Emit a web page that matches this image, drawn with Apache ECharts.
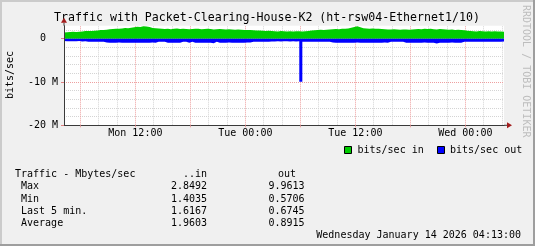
<!DOCTYPE html>
<html><head><meta charset="utf-8">
<script src="https://cdn.jsdelivr.net/npm/echarts@6/dist/echarts.min.js"></script>
<style>html,body{margin:0;padding:0;background:#f0f0f0}#c{width:535px;height:246px}</style>
</head><body><div id="c"></div><script>
// ---- data (Mbit/s) ----
const startHour = 4 + 13 / 60;          // Mon 04:13
const endHour = startHour + 48;         // Wed 04:13
const stepHours = 1 / 3;                // 20 min samples
const inValues = [
 1.42,1.50,1.55,1.62,1.52,1.58,1.66,
 1.75,1.80,1.78,1.82,1.90,
 2.00,1.98,2.05,
 2.20,2.25,2.30,2.28,2.38,2.45,2.40,
 2.55,2.62,
 2.78,2.72,2.85,2.80,2.70,
 2.45,2.40,2.35,
 2.30,2.25,2.32,2.20,2.28,2.35,2.22,2.30,2.26,2.18,2.25,2.32,2.28,2.20,2.24,2.30,2.22,2.15,2.20,2.26,2.18,2.12,2.20,2.15,2.08,2.12,2.05,2.00,1.98,2.02,
 1.95,1.88,1.92,1.85,1.80,1.86,1.78,
 1.72,1.68,1.75,1.70,1.65,1.72,1.68,1.74,1.70,1.66,1.72,1.78,
 1.90,1.95,2.00,2.05,1.98,2.08,
 2.15,2.20,2.25,2.18,2.28,2.30,2.35,
 2.55,2.70,2.85,2.65,
 2.40,2.35,2.30,2.38,2.28,2.32,2.25,
 2.20,2.15,2.10,2.18,2.12,2.05,2.10,2.15,2.08,
 2.15,2.20,2.25,2.18,2.30,2.22,2.28,2.20,2.15,2.25,2.18,2.10,2.05,2.12,2.00,2.05,1.98,1.95,
 1.85,1.80,
 1.72,1.68,1.75,1.70,1.66,1.72,1.65,1.70,1.68,1.64,1.62
];
const outValues = [
 0.55,0.58,0.58,0.57,0.60,0.55,0.62,0.60,
 0.70,0.68,0.72,0.70,0.70,0.72,
 0.90,0.92,0.93,0.92,0.90,0.92,0.94,0.92,0.91,
 0.92,0.93,0.91,0.92,0.94,0.92,0.90,0.92,
 0.70,0.72,0.70,
 0.92,0.93,0.92,0.91,0.92,
 0.72,0.70,0.92,0.70,0.92,
 0.93,0.92,0.94,0.92,0.91,
 1.05,0.70,
 0.92,0.93,0.92,0.90,0.92,0.94,0.92,0.91,0.92,0.90,0.88,
 0.72,0.70,0.70,0.68,0.70,0.72,0.66,
 0.62,0.58,0.66,0.57,0.60,0.64,0.58,0.62,0.60,
 9.96,
 0.70,0.72,0.68,0.70,0.70,0.72,0.70,0.68,0.72,
 0.90,0.92,0.93,0.92,0.91,0.92,0.94,0.92,0.90,0.92,0.93,0.92,0.91,0.92,0.92,0.94,0.92,0.90,0.92,
 0.70,0.72,0.68,0.70,0.72,
 0.92,0.93,0.91,0.92,0.94,0.92,0.90,0.92,0.93,0.92,
 1.10,
 0.92,0.91,0.93,0.92,0.90,0.92,0.94,0.92,
 0.70,0.72,0.68,0.70,0.71,0.69,0.70,0.72,0.70,0.68,0.70,0.69,0.70,0.67
];
const xLabelHours = [12, 24, 36, 48];
const xLabelTexts = ['Mon 12:00', 'Tue 00:00', 'Tue 12:00', 'Wed 00:00'];
const xMajorHours = [6, 12, 18, 24, 30, 36, 42, 48];
const xMinorHours = [8, 10, 14, 16, 20, 22, 26, 28, 32, 34, 38, 40, 44, 46, 50, 52];
const yLabelValues = [-20, -10, 0];
const yLabelTexts = ['-20 M', '-10 M', '0  '];
const yMajorValues = [-10, 0];
const yMinorValues = [-18, -16, -14, -12, -8, -6, -4, -2, 2];
const legendNames = ['bits/sec in', 'bits/sec out'];
const seriesColors = ['#00cc00', '#0000ff'];
const titleText = 'Traffic with Packet-Clearing-House-K2 (ht-rsw04-Ethernet1/10)';
const yAxisTitle = 'bits/sec';
const statHeader = ['Traffic - Mbytes/sec', '..in', 'out'];
const statRows = [' Max', ' Min', ' Last 5 min.', ' Average'];
const statIn = ['2.8492', '1.4035', '1.6167', '1.9603'];
const statOut = ['9.9613', '0.5706', '0.6745', '0.8915'];
const dateText = 'Wednesday January 14 2026 04:13:00';
const watermark = 'RRDTOOL / TOBI OETIKER';

// ---- chart ----
const FONT = 'DejaVu Sans Mono';
const inData = inValues.map((v, i) => [startHour + i * stepHours, v]);
const outData = outValues.map((v, i) => [startHour + i * stepHours, -v]);
const minorStyle = { type: 'dotted', color: '#d4d4d4', width: 1 };
const majorStyle = { type: 'dotted', color: '#eea0a0', width: 1 };
const gridLines = [].concat(
  xMinorHours.map(h => ({ xAxis: h, lineStyle: minorStyle })),
  yMinorValues.map(v => ({ yAxis: v, lineStyle: minorStyle })),
  xMajorHours.map(h => ({ xAxis: h, lineStyle: majorStyle })),
  yMajorValues.map(v => ({ yAxis: v, lineStyle: majorStyle }))
);

const chart = echarts.init(document.getElementById('c'), null, { renderer: 'canvas' });
const txt = (text, x, y, align, extra) => Object.assign({
  type: 'text', x: x, y: y, silent: true,
  style: { text: text, font: '10px "' + FONT + '"', fill: '#000', textAlign: align, textVerticalAlign: 'middle' }
}, extra || {});

const graphics = [
  { type: 'rect', shape: { x: 0, y: 0, width: 535, height: 2 }, style: { fill: '#cbcbcb' }, silent: true },
  { type: 'rect', shape: { x: 0, y: 0, width: 2, height: 246 }, style: { fill: '#cbcbcb' }, silent: true },
  { type: 'rect', shape: { x: 0, y: 244, width: 535, height: 2 }, style: { fill: '#9e9e9e' }, silent: true },
  { type: 'rect', shape: { x: 533, y: 0, width: 2, height: 246 }, style: { fill: '#9e9e9e' }, silent: true },
  { type: 'text', x: 267, y: 17.5, silent: true,
    style: { text: titleText, font: '11.6px "' + FONT + '"', fill: '#000', textAlign: 'center', textVerticalAlign: 'middle' } },
  txt(yAxisTitle, 10.5, 75, 'center', { rotation: Math.PI / 2 }),
  { type: 'text', x: 525.5, y: 5, rotation: -Math.PI / 2, silent: true,
    style: { text: watermark, font: '10px "' + FONT + '"', fill: '#bdbdbd', textAlign: 'left', textVerticalAlign: 'middle' } },
  // legend
  { type: 'rect', shape: { x: 344.5, y: 146.5, width: 7, height: 7 }, style: { fill: seriesColors[0], stroke: '#000', lineWidth: 1 }, silent: true },
  txt(legendNames[0], 357.5, 150, 'left'),
  { type: 'rect', shape: { x: 437.5, y: 146.5, width: 7, height: 7 }, style: { fill: seriesColors[1], stroke: '#000', lineWidth: 1 }, silent: true },
  txt(legendNames[1], 450, 150, 'left'),
  // stats
  txt(statHeader[0], 15, 174.5, 'left'),
  txt(statHeader[1], 207, 174.5, 'right'),
  txt(statHeader[2], 296, 174.5, 'right'),
  txt(dateText, 521, 235.8, 'right')
];
const rowY = [186.7, 199, 211.3, 223.6];
statRows.forEach((r, i) => {
  graphics.push(txt(r, 15, rowY[i], 'left'));
  graphics.push(txt(statIn[i], 207, rowY[i], 'right'));
  graphics.push(txt(statOut[i], 304.5, rowY[i], 'right'));
});

chart.setOption({
  animation: false,
  backgroundColor: '#f0f0f0',
  textStyle: { fontFamily: FONT },
  grid: { left: 64, right: 31, top: 25.7, bottom: 120.7, show: true, backgroundColor: '#ffffff', borderWidth: 0, containLabel: false, outerBoundsMode: 'none' },
  xAxis: {
    type: 'value', min: startHour, max: endHour, z: 10,
    axisLine: { show: true, onZero: false, lineStyle: { color: '#3a3a3a', width: 1 } },
    axisTick: { show: true, customValues: xMajorHours, length: 2, lineStyle: { color: '#eea0a0' } },
    axisLabel: { show: true, customValues: xLabelHours, margin: 3, color: '#000', fontFamily: FONT, fontSize: 10,
      formatter: v => { const k = xLabelHours.indexOf(Math.round(v)); return k >= 0 ? xLabelTexts[k] : ''; } },
    splitLine: { show: false }
  },
  yAxis: {
    type: 'value', min: -20, max: 3, interval: 2, z: 10,
    axisLine: { show: true, onZero: false, lineStyle: { color: '#3a3a3a', width: 1 } },
    axisTick: { show: true, customValues: yLabelValues, length: 3, lineStyle: { color: '#e08080' } },
    axisLabel: { show: true, customValues: yLabelValues, margin: 6, color: '#000', fontFamily: FONT, fontSize: 10,
      formatter: v => { const k = yLabelValues.indexOf(Math.round(v)); return k >= 0 ? yLabelTexts[k] : ''; } },
    splitLine: { show: false }
  },
  series: [
    { name: 'grid', type: 'line', data: [], z: 1, silent: true,
      markLine: { z: 1, silent: true, symbol: ['none', 'none'], label: { show: false }, animation: false, data: gridLines } },
    { name: legendNames[0], type: 'line', step: 'start', data: inData, symbol: 'none', z: 4, silent: true,
      lineStyle: { width: 0 }, areaStyle: { color: seriesColors[0], opacity: 1 } },
    { name: legendNames[1], type: 'line', step: 'start', data: outData, symbol: 'none', z: 5, silent: true,
      lineStyle: { width: 0 }, areaStyle: { color: seriesColors[1], opacity: 1 } }
  ],
  graphic: graphics
});

// axis arrows, placed from the chart's own coordinate conversion
const pEndX = chart.convertToPixel({ gridIndex: 0 }, [endHour, -20]);
const pTopY = chart.convertToPixel({ gridIndex: 0 }, [startHour, 3]);
const arrowColor = '#a31d1d';
graphics.push(
  { type: 'line', shape: { x1: pEndX[0], y1: pEndX[1], x2: pEndX[0] + 3, y2: pEndX[1] }, style: { stroke: '#3a3a3a', lineWidth: 1 }, silent: true },
  { type: 'polygon', shape: { points: [[pEndX[0] + 3, pEndX[1] - 3], [pEndX[0] + 8, pEndX[1]], [pEndX[0] + 3, pEndX[1] + 3]] }, style: { fill: arrowColor }, silent: true },
  { type: 'line', shape: { x1: pTopY[0], y1: pTopY[1], x2: pTopY[0], y2: pTopY[1] - 3 }, style: { stroke: '#3a3a3a', lineWidth: 1 }, silent: true },
  { type: 'polygon', shape: { points: [[pTopY[0] - 3, pTopY[1] - 3], [pTopY[0], pTopY[1] - 8], [pTopY[0] + 3, pTopY[1] - 3]] }, style: { fill: arrowColor }, silent: true }
);
chart.setOption({ graphic: graphics });
</script></body></html>
